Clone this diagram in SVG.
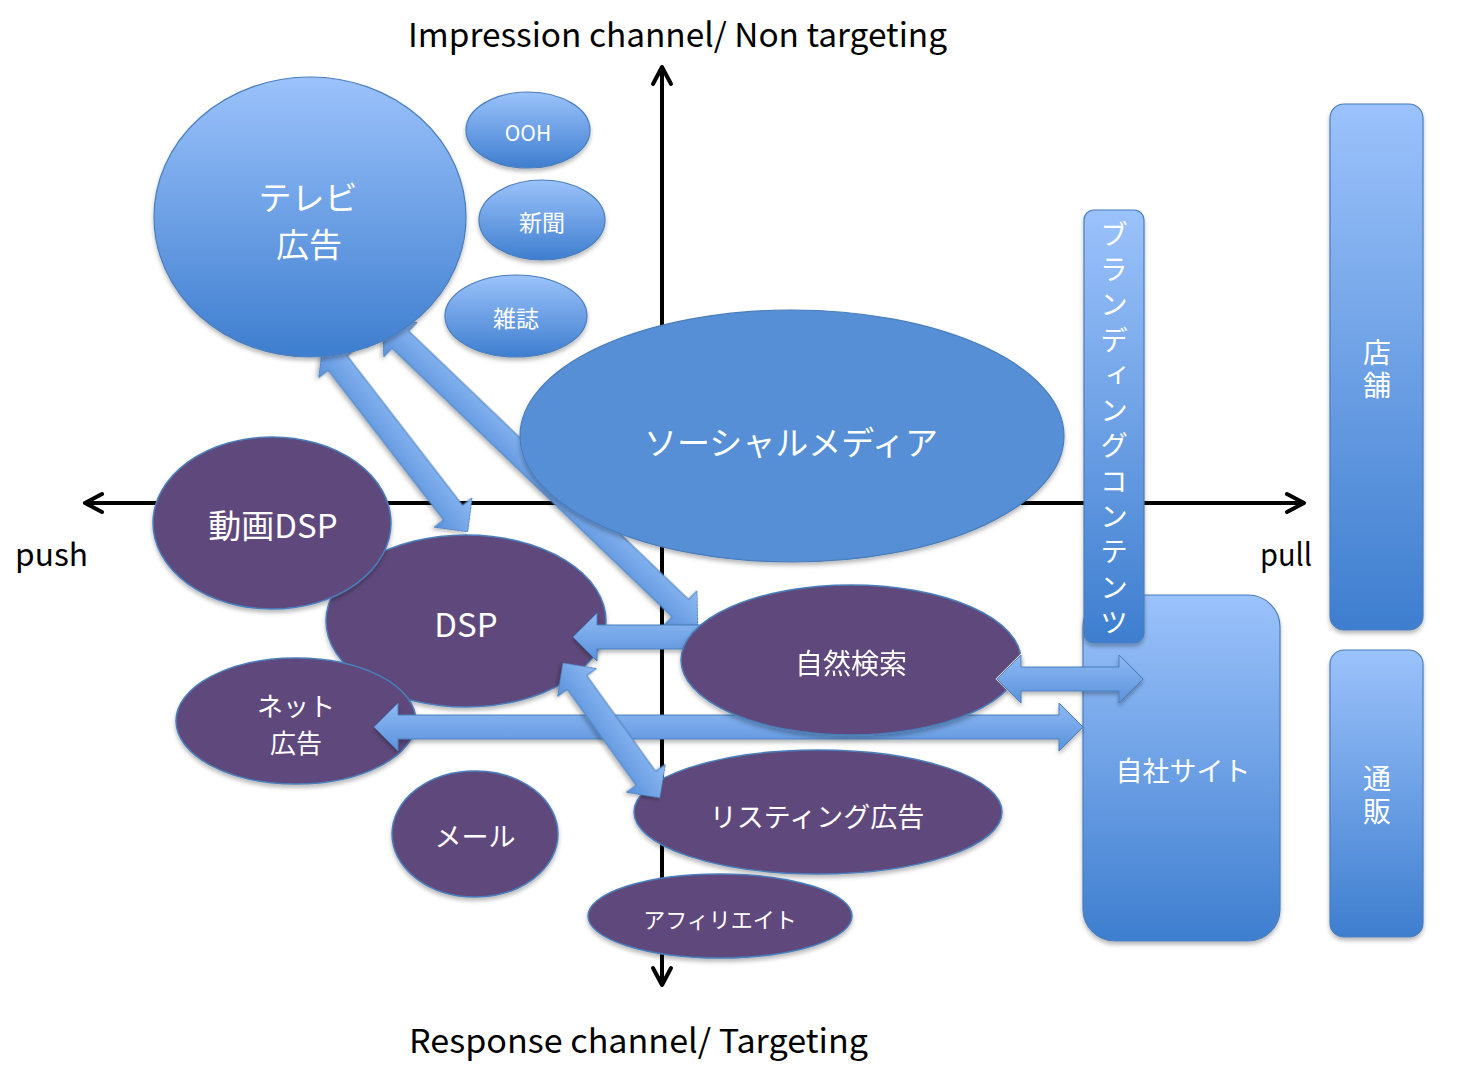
<svg xmlns="http://www.w3.org/2000/svg" width="1479" height="1069" viewBox="0 0 1479 1069">
<defs>
<style>
.ax{fill:none;stroke:#000;stroke-width:4}
.lbl{font-family:"Noto Sans CJK JP","Noto Sans",sans-serif;fill:#000}
.t{font-family:"Noto Sans CJK JP","Noto Sans",sans-serif;fill:#fff;text-anchor:middle}
.v{font-family:"Noto Sans CJK JP","Noto Sans",sans-serif;fill:#fff;writing-mode:vertical-rl}
.blue{fill:url(#gBlue);stroke:#4a7ebb;stroke-width:1.2;filter:url(#sh)}
.purple{fill:#5f4a7b;stroke:#4a7ebb;stroke-width:1.5;filter:url(#sh)}
.social{fill:#568fd6;stroke:#4a7ebb;stroke-width:1.2;filter:url(#sh)}
.arrow{fill:url(#gArrow);stroke:#4a7ebb;stroke-width:1;filter:url(#sh)}
</style>
<linearGradient id="gBlue" x1="0" y1="0" x2="0" y2="1">
<stop offset="0" stop-color="#9bc2fb"/>
<stop offset="1" stop-color="#3e7ecf"/>
</linearGradient>
<linearGradient id="gArrow" x1="0" y1="0" x2="0" y2="1">
<stop offset="0" stop-color="#8fbaf4"/>
<stop offset="1" stop-color="#5a92dc"/>
</linearGradient>
<filter id="sh" x="-10%" y="-10%" width="120%" height="130%">
<feDropShadow dx="0" dy="3" stdDeviation="2" flood-color="#000" flood-opacity="0.28"/>
</filter>
<marker id="chev" viewBox="-20 -12 24 24" markerWidth="24" markerHeight="24" refX="0" refY="0" orient="auto-start-reverse" markerUnits="userSpaceOnUse">
<path d="M-17,-9 L0,0 L-17,9" fill="none" stroke="#000" stroke-width="4" stroke-linecap="round" stroke-linejoin="round"/>
</marker>
<mask id="cutA4" maskUnits="userSpaceOnUse" x="0" y="0" width="1479" height="1069">
<rect width="1479" height="1069" fill="#fff"/>
<path d="M997,679 L1021,655 L1021,667 L1119,667 L1119,655 L1143,679 L1119,703 L1119,691 L1021,691 L1021,703 Z" fill="#000" stroke="#000" stroke-width="2"/>
</mask>
</defs>

<g id="axes">
<line class="ax" x1="662" y1="985" x2="662" y2="67" marker-start="url(#chev)" marker-end="url(#chev)"/>
<line class="ax" x1="85" y1="503" x2="1304" y2="503" marker-start="url(#chev)" marker-end="url(#chev)"/>
<text class="lbl" x="408" y="47" font-size="33" textLength="539" lengthAdjust="spacingAndGlyphs">Impression channel/ Non targeting</text>
<text class="lbl" x="409" y="1053" font-size="33" textLength="459" lengthAdjust="spacingAndGlyphs">Response channel/ Targeting</text>
<text class="lbl" x="15" y="566" font-size="31" textLength="73" lengthAdjust="spacingAndGlyphs">push</text>
<text class="lbl" x="1260" y="566" font-size="31" textLength="52" lengthAdjust="spacingAndGlyphs">pull</text>
</g>

<g id="n-ooh">
<ellipse class="blue" cx="528" cy="130" rx="62" ry="38"/>
<text class="t" x="528" y="141" font-size="21">OOH</text>
</g>
<g id="n-shinbun">
<ellipse class="blue" cx="542" cy="220" rx="63" ry="40"/>
<text class="t" x="542" y="231" font-size="23">新聞</text>
</g>
<g id="n-zasshi">
<ellipse class="blue" cx="516" cy="316" rx="71" ry="41"/>
<text class="t" x="516" y="327" font-size="23">雑誌</text>
</g>
<g id="n-dsp">
<ellipse class="purple" cx="466" cy="621" rx="140" ry="86"/>
<text class="t" x="466" y="637" font-size="33">DSP</text>
</g>
<g id="n-douga-dsp">
<ellipse class="purple" cx="272" cy="523" rx="119" ry="86"/>
<text class="t" x="273" y="538" font-size="33">動画DSP</text>
</g>
<g id="n-net">
<ellipse class="purple" cx="296" cy="721" rx="120" ry="63"/>
<text class="t" font-size="26"><tspan x="296" y="716">ネット</tspan><tspan x="296" y="753">広告</tspan></text>
</g>
<g id="n-mail">
<ellipse class="purple" cx="475" cy="834" rx="83" ry="63"/>
<text class="t" x="475" y="847" font-size="27">メール</text>
</g>
<g id="n-listing">
<ellipse class="purple" cx="818" cy="812" rx="184" ry="62"/>
<text class="t" x="817" y="827" font-size="27">リスティング広告</text>
</g>
<g id="n-affiliate">
<ellipse class="purple" cx="720" cy="916" rx="132" ry="42"/>
<text class="t" x="720" y="928" font-size="22">アフィリエイト</text>
</g>
<g id="n-jisha">
<rect class="blue" x="1083" y="595" width="197" height="346" rx="32"/>
<text class="t" x="1183" y="781" font-size="27">自社サイト</text>
</g>
<g id="n-branding">
<rect class="blue" x="1084" y="210" width="60" height="433" rx="10"/>
<text class="v" x="1114" y="220" font-size="28" letter-spacing="7.3">ブランディングコンテンツ</text>
</g>
<g id="n-tenpo">
<rect class="blue" x="1330" y="104" width="93" height="526" rx="14"/>
<text class="v" x="1377" y="338" font-size="28" letter-spacing="5">店舗</text>
</g>
<g id="n-tsuhan">
<rect class="blue" x="1330" y="650" width="93" height="287" rx="14"/>
<text class="v" x="1377" y="764" font-size="28" letter-spacing="5">通販</text>
</g>

<g id="connectors">
<path class="arrow" transform="translate(323,344) rotate(52.36)" d="M0,0 L24,-24 L24,-12 L213,-12 L213,-24 L237,0 L213,24 L213,12 L24,12 L24,24 Z"/>
<path class="arrow" transform="translate(383,323) rotate(43.8)" d="M0,0 L24,-24 L24,-12 L412,-12 L412,-24 L436,0 L412,24 L412,12 L24,12 L24,24 Z"/>
<path class="arrow" transform="translate(573,637)" d="M0,0 L24,-24 L24,-12 L163,-12 L163,-24 L187,0 L163,24 L163,12 L24,12 L24,24 Z"/>
<path class="arrow" transform="translate(374,727)" d="M0,0 L24,-24 L24,-12 L685,-12 L685,-24 L709,0 L685,24 L685,12 L24,12 L24,24 Z"/>
<path class="arrow" transform="translate(563,663) rotate(54.3)" d="M0,0 L24,-24 L24,-12 L142,-12 L142,-24 L166,0 L142,24 L142,12 L24,12 L24,24 Z"/>
<path class="arrow" transform="translate(997,679)" d="M0,0 L24,-24 L24,-12 L122,-12 L122,-24 L146,0 L122,24 L122,12 L24,12 L24,24 Z"/>
</g>

<g id="n-tv">
<ellipse class="blue" cx="310" cy="217" rx="156" ry="140"/>
<text class="t" font-size="33"><tspan x="308" y="210">テレビ</tspan><tspan x="309" y="257">広告</tspan></text>
</g>
<g id="n-social">
<ellipse class="social" cx="792" cy="436" rx="272" ry="126"/>
<text class="t" x="791" y="455" font-size="33">ソーシャルメディア</text>
</g>
<g id="n-shizen" mask="url(#cutA4)">
<ellipse class="purple" cx="851" cy="660" rx="170" ry="75"/>
<text class="t" x="851" y="674" font-size="28">自然検索</text>
</g>
</svg>
